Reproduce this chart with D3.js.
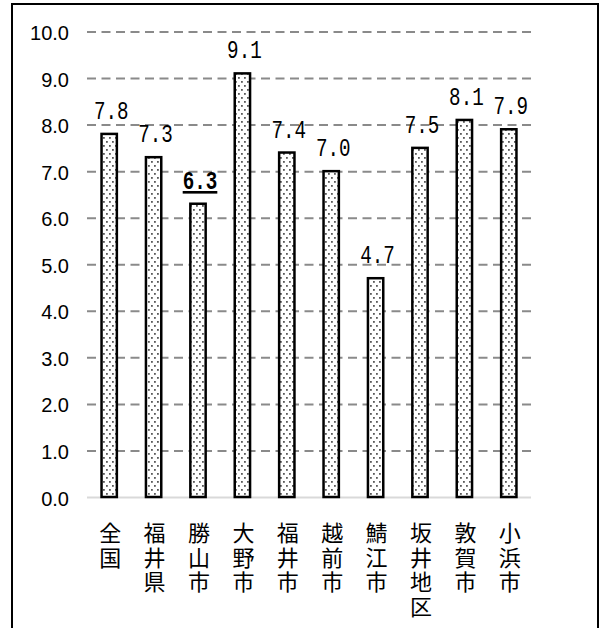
<!DOCTYPE html>
<html>
<head>
<meta charset="utf-8">
<script src="https://cdn.jsdelivr.net/npm/d3@7/dist/d3.min.js"></script>
<style>
  html, body { margin: 0; padding: 0; background: #fff; }
  svg { display: block; }
</style>
</head>
<body>
<script>
// Area names and their values
const categories = ["全国", "福井県", "勝山市", "大野市", "福井市", "越前市", "鯖江市", "坂井地区", "敦賀市", "小浜市"];
const values = [7.8, 7.3, 6.3, 9.1, 7.4, 7.0, 4.7, 7.5, 8.1, 7.9];
const yTicks = [0, 1, 2, 3, 4, 5, 6, 7, 8, 9, 10];
const highlighted = ["勝山市"];

const W = 601, H = 628;
const svg = d3.select("body").append("svg").attr("width", W).attr("height", H);

// dotted fill for the bars
const defs = svg.append("defs");
const pat = defs.append("pattern")
  .attr("id", "dots").attr("patternUnits", "userSpaceOnUse")
  .attr("width", 6).attr("height", 8);
pat.append("rect").attr("width", 6).attr("height", 8).attr("fill", "#fff");
pat.append("rect").attr("x", 1).attr("y", 1).attr("width", 1.8).attr("height", 1.8).attr("fill", "#5a5a5a");
pat.append("rect").attr("x", 4).attr("y", 5).attr("width", 1.8).attr("height", 1.8).attr("fill", "#5a5a5a");

// outer frame
svg.append("rect")
  .attr("x", 12).attr("y", 4).attr("width", 586).attr("height", 640)
  .attr("fill", "none").attr("stroke", "#000").attr("stroke-width", 2);

const x = d3.scaleBand().domain(categories).range([87, 531])
  .paddingInner(0.655).paddingOuter(0.3275);
const y = d3.scaleLinear().domain([0, 10]).range([497, 31.5]);

// dashed gridlines
const yAxis = d3.axisLeft(y).tickValues(yTicks).tickFormat(d3.format(".1f"))
  .tickSize(-(531 - 87)).tickPadding(18);
const gy = svg.append("g").attr("transform", "translate(87,0)").call(yAxis);
gy.select(".domain").remove();
gy.selectAll(".tick line")
  .attr("stroke", d => d === 0 ? "#d9d9d9" : "#8a8a8a")
  .attr("stroke-width", 2)
  .attr("stroke-dasharray", d => d === 0 ? null : "9 5.5");
gy.selectAll(".tick text")
  .attr("fill", "#000")
  .attr("font-family", "'Liberation Sans', Arial, sans-serif")
  .attr("font-size", 20)
  .attr("dy", "0.4em");

// bars
svg.append("g").selectAll("rect").data(values).join("rect")
  .attr("x", (d, i) => x(categories[i]))
  .attr("y", d => y(d))
  .attr("width", x.bandwidth())
  .attr("height", d => y(0) - y(d))
  .attr("fill", "url(#dots)")
  .attr("stroke", "#000")
  .attr("stroke-width", 2.5);

// value labels
svg.append("g").selectAll("text").data(values).join("text")
  .attr("transform", (d, i) => {
    const cx = x(categories[i]) + x.bandwidth() / 2 + 2;
    return `translate(${cx},${y(d) - 15}) scale(0.74,1)`;
  })
  .attr("text-anchor", "middle")
  .attr("font-family", "'Liberation Mono', 'DejaVu Sans Mono', monospace")
  .attr("font-size", 26)
  .attr("font-weight", (d, i) => highlighted.includes(categories[i]) ? "bold" : "normal")
  .attr("text-decoration", (d, i) => highlighted.includes(categories[i]) ? "underline" : null)
  .attr("fill", "#000")
  .text(d => d.toFixed(1));

// vertical category labels
svg.append("g").selectAll("text").data(categories).join("text")
  .attr("x", d => x(d) + x.bandwidth() / 2 + 1)
  .attr("y", 522)
  .attr("writing-mode", "vertical-rl")
  .attr("letter-spacing", 2.5)
  .attr("font-family", "'Noto Sans CJK JP', sans-serif")
  .attr("font-size", 22)
  .attr("fill", "#000")
  .text(d => d);
</script>
</body>
</html>
